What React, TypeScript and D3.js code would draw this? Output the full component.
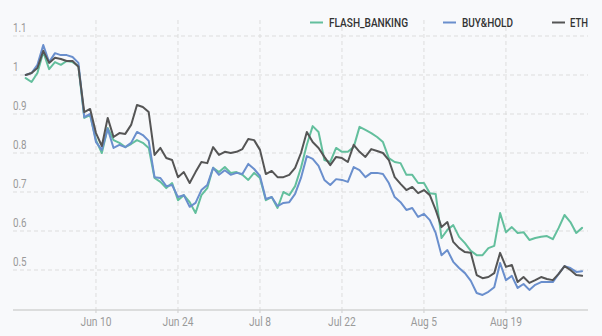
import React from 'react';
import * as d3 from 'd3';

const W = 602;
const H = 336;

// Daily series starting at this date (UTC)
const startDate = '2019-05-29';

const flashBanking = [
  0.992, 0.982, 1.005, 1.059, 1.015, 1.033, 1.026, 1.036, 1.033, 1.023,
  0.890, 0.897, 0.833, 0.800, 0.864, 0.833, 0.826, 0.815, 0.823, 0.833,
  0.826, 0.813, 0.736, 0.726, 0.710, 0.723, 0.679, 0.692, 0.674, 0.646,
  0.692, 0.710, 0.762, 0.751, 0.764, 0.749, 0.751, 0.744, 0.731, 0.749,
  0.736, 0.679, 0.687, 0.659, 0.700, 0.692, 0.715, 0.762, 0.821, 0.869,
  0.854, 0.782, 0.777, 0.813, 0.803, 0.803, 0.815, 0.867, 0.859, 0.851,
  0.841, 0.828, 0.787, 0.777, 0.774, 0.744, 0.744, 0.723, 0.723, 0.697,
  0.695, 0.582, 0.603, 0.615, 0.585, 0.569, 0.549, 0.538, 0.538, 0.556,
  0.562, 0.646, 0.597, 0.610, 0.595, 0.597, 0.577, 0.582, 0.585, 0.587,
  0.579, 0.608, 0.641, 0.623, 0.595, 0.608,
];

const buyHold = [
  1.000, 1.005, 1.026, 1.077, 1.033, 1.056, 1.051, 1.051, 1.046, 1.031,
  0.892, 0.900, 0.828, 0.808, 0.862, 0.813, 0.821, 0.815, 0.826, 0.854,
  0.846, 0.831, 0.738, 0.736, 0.715, 0.718, 0.687, 0.692, 0.662, 0.672,
  0.705, 0.718, 0.762, 0.744, 0.756, 0.744, 0.749, 0.746, 0.772, 0.759,
  0.741, 0.682, 0.687, 0.664, 0.672, 0.674, 0.695, 0.736, 0.792, 0.785,
  0.767, 0.731, 0.718, 0.733, 0.731, 0.726, 0.764, 0.756, 0.738, 0.749,
  0.749, 0.746, 0.723, 0.687, 0.674, 0.654, 0.659, 0.636, 0.644, 0.628,
  0.595, 0.538, 0.551, 0.521, 0.505, 0.492, 0.472, 0.441, 0.436, 0.444,
  0.456, 0.518, 0.474, 0.485, 0.454, 0.464, 0.449, 0.462, 0.469, 0.469,
  0.469, 0.490, 0.510, 0.505, 0.495, 0.497,
];

const eth = [
  1.000, 1.005, 1.018, 1.062, 1.031, 1.044, 1.041, 1.036, 1.036, 1.021,
  0.905, 0.913, 0.851, 0.818, 0.890, 0.841, 0.851, 0.849, 0.872, 0.923,
  0.918, 0.905, 0.795, 0.813, 0.787, 0.782, 0.738, 0.751, 0.723, 0.751,
  0.777, 0.774, 0.815, 0.795, 0.803, 0.800, 0.803, 0.810, 0.836, 0.833,
  0.808, 0.746, 0.754, 0.738, 0.738, 0.744, 0.762, 0.800, 0.854, 0.828,
  0.813, 0.790, 0.769, 0.790, 0.787, 0.777, 0.821, 0.803, 0.790, 0.810,
  0.805, 0.800, 0.782, 0.738, 0.721, 0.705, 0.713, 0.697, 0.705, 0.692,
  0.654, 0.610, 0.623, 0.572, 0.556, 0.546, 0.544, 0.487, 0.479, 0.482,
  0.492, 0.544, 0.508, 0.513, 0.469, 0.482, 0.467, 0.474, 0.482, 0.477,
  0.474, 0.490, 0.510, 0.500, 0.487, 0.485,
];

const seriesNames = ['FLASH_BANKING', 'BUY&HOLD', 'ETH'];

const xTickDates = ['2019-06-10', '2019-06-24', '2019-07-08', '2019-07-22', '2019-08-05', '2019-08-19'];
const xTickLabels = ['Jun 10', 'Jun 24', 'Jul 8', 'Jul 22', 'Aug 5', 'Aug 19'];

const yTicks = [0.5, 0.6, 0.7, 0.8, 0.9, 1.0, 1.1];
const yTickLabels = ['0.5', '0.6', '0.7', '0.8', '0.9', '1', '1.1'];

// styles / layout
const COLORS = ['#63bf9d', '#6a8fcd', '#555555'];
const BG = '#f8f9fb';
const GRID = '#dddddd';
const FONT = 'Roboto, "Noto Sans", sans-serif';
const CONDENSE = 0.82;
const plotLeft = 13;
const plotRight = 588;
const plotTop = 20;
const axisY = 310;
const legendLayout = [
  { lineX: 310, textX: 329, w: 79 },
  { lineX: 443, textX: 462, w: 51 },
  { lineX: 552, textX: 570, w: 18 },
];

export default function App() {
  const parse = d3.utcParse('%Y-%m-%d');
  const start = parse(startDate) as Date;
  const dates = eth.map((_, i) => d3.utcDay.offset(start, i));

  const x = d3
    .scaleUtc()
    .domain([dates[0], dates[dates.length - 1]])
    .range([25.7, 582.1]);
  const y = d3.scaleLinear().domain([0.4, 1.1]).range([309, 36]);

  const line = d3
    .line<number>()
    .x((_, i) => x(dates[i]))
    .y((d) => y(d))
    .curve(d3.curveLinear);

  const series = [flashBanking, buyHold, eth];
  const tickDates = xTickDates.map((s) => parse(s) as Date);

  return (
    <svg
      width={W}
      height={H}
      style={{ position: 'absolute', left: 0, top: 0, background: BG }}
      fontFamily={FONT}
    >
      <rect x={0} y={0} width={W} height={H} fill={BG} />
      {/* horizontal grid */}
      {yTicks.map((t, i) => (
        <g key={'y' + i}>
          <line
            x1={plotLeft}
            x2={plotRight}
            y1={y(t)}
            y2={y(t)}
            stroke={GRID}
            strokeWidth={1}
            strokeDasharray="4,3"
          />
          <text
            transform={`translate(${plotLeft},${y(t) - 4}) scale(${CONDENSE},1)`}
            fontSize={12}
            fill="#9a9a9a"
          >
            {yTickLabels[i]}
          </text>
        </g>
      ))}
      {/* vertical grid + x ticks */}
      {tickDates.map((d, i) => (
        <g key={'x' + i}>
          <line
            x1={x(d)}
            x2={x(d)}
            y1={plotTop}
            y2={axisY}
            stroke={GRID}
            strokeWidth={1}
            strokeDasharray="4,3"
          />
          <line x1={x(d)} x2={x(d)} y1={axisY} y2={axisY + 3} stroke="#cccccc" strokeWidth={1} />
          <text
            transform={`translate(${x(d)},${326}) scale(0.85,1)`}
            textAnchor="middle"
            fontSize={12}
            fill="#9a9a9a"
          >
            {xTickLabels[i]}
          </text>
        </g>
      ))}
      <line x1={plotLeft} x2={plotRight} y1={axisY} y2={axisY} stroke="#d3d3d3" strokeWidth={1.5} />
      {/* series */}
      {series.map((s, i) => (
        <path
          key={'s' + i}
          d={line(s) || ''}
          fill="none"
          stroke={COLORS[i]}
          strokeWidth={2}
          strokeLinejoin="round"
          strokeLinecap="round"
        />
      ))}
      {/* legend */}
      {seriesNames.map((n, i) => (
        <g key={'l' + i}>
          <line
            x1={legendLayout[i].lineX}
            x2={legendLayout[i].lineX + 13}
            y1={22.5}
            y2={22.5}
            stroke={COLORS[i]}
            strokeWidth={2}
          />
          <text
            x={legendLayout[i].textX}
            y={27}
            fontSize={12.5}
            fill="#333333"
            fontWeight={500}
            textLength={legendLayout[i].w}
            lengthAdjust="spacingAndGlyphs"
          >
            {n}
          </text>
        </g>
      ))}
    </svg>
  );
}
